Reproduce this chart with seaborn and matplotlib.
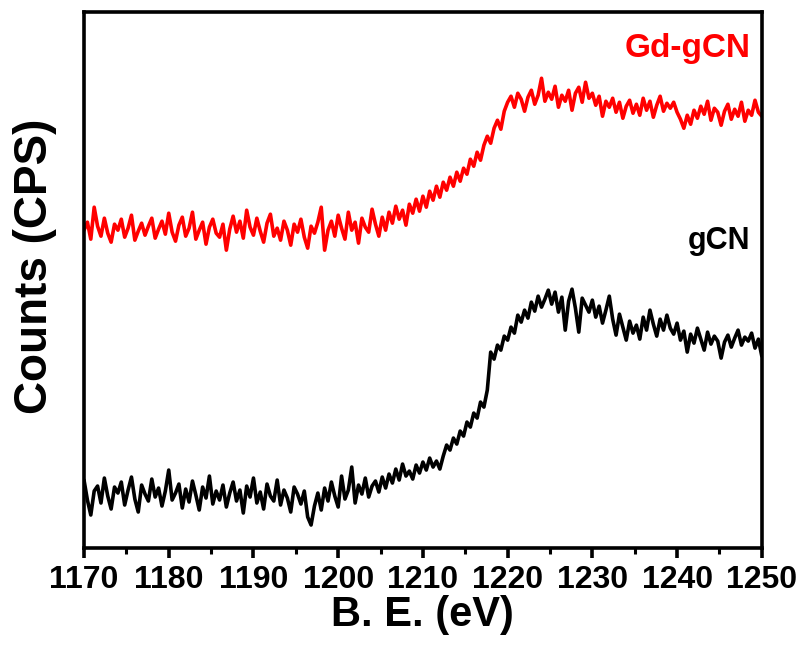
import numpy as np
import pandas as pd
import matplotlib
matplotlib.use("Agg")
import matplotlib.pyplot as plt
import seaborn as sns
from matplotlib.ticker import MultipleLocator

# Binding energy grid (eV), 0.4 eV step
be_start, be_stop, be_step = 1170.0, 1250.0, 0.4

# Gd 3d region, Gd-gCN sample (arbitrary counts)
gd_gcn = [
    318, 326, 309, 341, 322, 312, 330, 315, 306, 324,
    318, 329, 311, 320, 333, 308, 317, 325, 313, 322,
    330, 310, 319, 327, 314, 335, 316, 307, 323, 331,
    312, 320, 336, 309, 318, 326, 304, 321, 329, 315,
    311, 324, 298, 319, 332, 316, 327, 310, 338, 321,
    313, 330, 317, 306, 325, 334, 312, 320, 308, 327,
    318, 303, 324, 316, 329, 311, 300, 322, 315, 326,
    341, 298, 318, 327, 312, 333, 320, 309, 336, 318,
    326, 305, 330, 321, 316, 339, 324, 312,
    331, 318, 336, 325, 342, 329, 338, 323, 344, 335, 349, 337,
    352, 341, 357, 348, 362, 351, 366, 358, 371, 362, 376, 367, 380,
    374, 389, 382, 396, 388, 403, 412, 405, 420, 428, 419, 437,
    446, 452, 441, 455, 449, 437, 451, 458, 444, 453, 470, 447, 456,
    449, 462, 441, 453, 447, 458, 438, 455, 461, 446, 466, 450,
    455, 443, 452, 432, 447, 441, 450, 436, 446, 430, 442, 448, 435,
    444, 433, 450, 438, 447, 431, 443, 452, 437, 445, 440, 446,
    436, 429, 420, 433, 424, 438, 430, 442, 434, 447, 428, 440, 436,
    423, 437, 444, 429, 439, 432, 446, 427, 438, 433, 448, 436, 432,
]

# Same region, pristine gCN sample (arbitrary counts)
gcn = [
    68, 48, 33, 57, 62, 45, 70, 52, 39, 61,
    55, 66, 43, 58, 71, 49, 36, 63, 54, 47,
    69, 51, 60, 42, 57, 78, 48, 55, 64, 40,
    59, 46, 67, 53, 38, 61, 50, 72, 44, 57,
    48, 63, 41, 55, 66, 47, 58, 35, 62, 51,
    70, 45, 56, 39, 64, 52, 47, 68, 43, 58,
    50, 36, 61, 54, 44, 57, 31, 23, 42, 55,
    38, 60, 47, 66, 52, 41, 72, 49, 58, 81,
    45, 63, 54, 70, 51, 62, 67, 56,
    71, 60, 74, 65, 79, 68, 84, 72, 77, 69, 83, 75,
    86, 78, 90, 81, 87, 79, 92, 103, 98, 110, 104, 117, 112,
    126, 121, 135, 130, 146, 141, 158, 196, 189, 203, 198, 212,
    208, 221, 215, 233, 226, 238, 230, 246, 237, 252, 241, 249, 258,
    244, 256, 236, 251, 218, 247, 259, 240, 216, 250, 243, 236,
    248, 231, 242, 225, 238, 252, 229, 213, 234, 221, 208, 227, 215,
    223, 209, 231, 218, 238, 224, 212, 229, 218, 233, 220, 214,
    225, 208, 217, 196, 214, 205, 220, 209, 198, 216, 204, 212, 207,
    190, 206, 213, 201, 210, 218, 203, 211, 207, 215, 200, 209, 192,
]

series_names = ["Gd-gCN", "gCN"]
series_colors = {"Gd-gCN": "#ff0000", "gCN": "#000000"}
x_ticks = [1170, 1180, 1190, 1200, 1210, 1220, 1230, 1240, 1250]

be = be_start + be_step * np.arange(len(gd_gcn))
df = pd.concat([
    pd.DataFrame({"be": be, "counts": gd_gcn, "sample": "Gd-gCN"}),
    pd.DataFrame({"be": be, "counts": gcn, "sample": "gCN"}),
])

sns.set_style("ticks")
plt.rcParams["font.family"] = ["Liberation Sans", "DejaVu Sans"]
plt.rcParams["font.weight"] = "bold"
plt.rcParams["text.color"] = "black"
plt.rcParams["axes.labelcolor"] = "black"
plt.rcParams["xtick.color"] = "black"
plt.rcParams["ytick.color"] = "black"

fig = plt.figure(figsize=(8.04, 6.47), dpi=100)
ax = fig.add_axes([0.1045, 0.153, 0.843, 0.828])

sns.lineplot(data=df, x="be", y="counts", hue="sample", hue_order=series_names,
             palette=series_colors, linewidth=2.6, legend=False, ax=ax,
             estimator=None, sort=False)

ax.set_xlim(1170, 1250)
ax.set_ylim(0, 536)
ax.set_xticks(x_ticks)
ax.xaxis.set_minor_locator(MultipleLocator(5))
ax.set_yticks([])

for s in ax.spines.values():
    s.set_linewidth(2.6)
    s.set_color("black")

ax.tick_params(axis="x", which="major", direction="out", length=7, width=2.6,
               pad=5, labelsize=23, labelcolor="black")
ax.tick_params(axis="x", which="minor", direction="out", length=4, width=2.2)
for lab in ax.get_xticklabels():
    lab.set_fontweight("bold")

ax.set_xlabel("B. E. (eV)", fontsize=30, fontweight="bold", labelpad=0)
ax.set_ylabel("Counts (CPS)", fontsize=33, fontweight="bold")
ax.yaxis.set_label_coords(-0.04, 0.525)

ax.text(0.983, 0.932, "Gd-gCN", transform=ax.transAxes, ha="right", va="center",
        color="#ff0000", fontsize=24, fontweight="bold")
ax.text(0.983, 0.573, "gCN", transform=ax.transAxes, ha="right", va="center",
        color="black", fontsize=22, fontweight="bold")

fig.savefig("out.png", dpi=100)
